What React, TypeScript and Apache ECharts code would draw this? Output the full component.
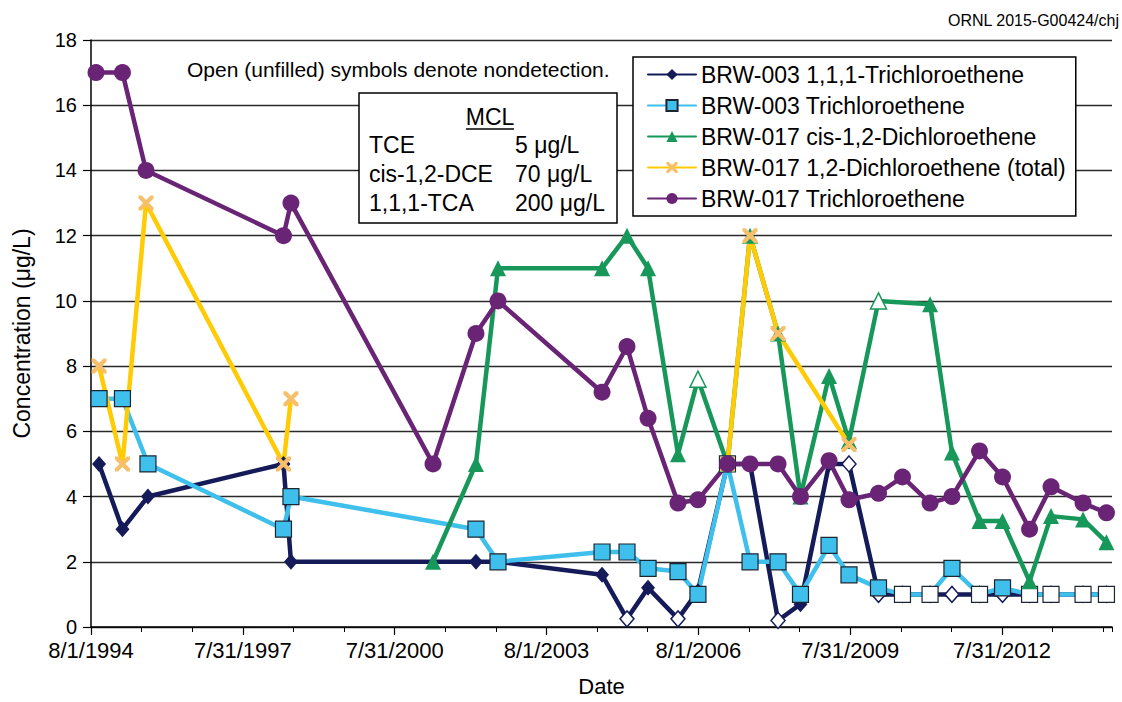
import React, { useEffect, useRef } from "react";
import * as echarts from "echarts";

// ---------- data ----------
const dates003 = ["1994-09-28","1995-03-16","1995-09-16","1998-05-21","1998-07-14","2002-03-10","2002-08-16","2004-09-05","2005-03-04","2005-08-03","2006-03-07","2006-07-29","2007-02-27","2007-08-09","2008-02-27","2008-08-07","2009-03-01","2009-07-23","2010-02-21","2010-08-13","2011-02-28","2011-08-05","2012-02-20","2012-08-04","2013-02-15","2013-07-20","2014-03-08","2014-08-24"];
const tca003 = [5,3,4,5,2,2,2,1.6,0.25,1.2,0.25,1.1,5,5,0.2,0.7,5,5,1,1,1,1,1,1,1,1,1,1];
const tca003ND = [8,10,14,17,18,19,20,21,22,23,24,25,26,27];
const tce003 = [7,7,5,3,4,3,2,2.3,2.3,1.8,1.7,1.0,5,2,2,1.0,2.5,1.6,1.2,1,1,1.8,1,1.2,1,1,1,1];
const tce003ND = [19,20,22,24,25,26,27];

const datesCis017 = ["2001-05-04","2002-03-10","2002-08-16","2004-09-05","2005-03-04","2005-08-03","2006-03-07","2006-07-29","2007-02-27","2007-08-09","2008-02-27","2008-08-07","2009-03-01","2009-07-23","2010-02-21","2011-02-28","2011-08-05","2012-02-20","2012-08-04","2013-02-15","2013-07-20","2014-03-08","2014-08-24"];
const cis017 = [2,5,11,11,12,11,5.3,7.6,5,12,9,4,7.7,5.7,10,9.9,5.35,3.25,3.25,1.4,3.4,3.3,2.6];
const cis017ND = [7,14];

const datesDce017: (string | null)[] = ["1994-09-28","1995-03-16","1995-09-02","1998-05-21","1998-07-14",null,"2007-02-27","2007-08-09","2008-02-27","2009-07-23"];
const dce017: (number | null)[] = [8,5,13,5,7,null,5,12,9,5.6];

const dates017 = ["1994-09-06","1995-03-16","1995-09-02","1998-05-21","1998-07-14","2001-05-04","2002-03-10","2002-08-16","2004-09-05","2005-03-04","2005-08-03","2006-03-07","2006-07-29","2007-02-27","2007-08-09","2008-02-27","2008-08-07","2009-03-01","2009-07-23","2010-02-21","2010-08-13","2011-02-28","2011-08-05","2012-02-20","2012-08-04","2013-02-15","2013-07-20","2014-03-08","2014-08-24"];
const tce017 = [17,17,14,12,13,5,9,10,7.2,8.6,6.4,3.8,3.9,5,5,5,4,5.1,3.9,4.1,4.6,3.8,4.0,5.4,4.6,3.0,4.3,3.8,3.5];

const seriesNames = [
  "BRW-003 1,1,1-Trichloroethene",
  "BRW-003 Trichloroethene",
  "BRW-017 cis-1,2-Dichloroethene",
  "BRW-017 1,2-Dichloroethene (total)",
  "BRW-017 Trichloroethene",
];
const mclRows = [
  ["TCE", "5 μg/L"],
  ["cis-1,2-DCE", "70 μg/L"],
  ["1,1,1-TCA", "200 μg/L"],
];
const yTicks = { min: 0, max: 18, interval: 2 };

// ---------- helpers ----------
const BASE = Date.UTC(1994, 7, 1);
const DAY = 86400000;
const toDay = (s: string) => (Date.parse(s + "T00:00:00Z") - BASE) / DAY;
const fmtDay = (v: number) => {
  const d = new Date(BASE + Math.floor(v + 1e-6) * DAY);
  return `${d.getUTCMonth() + 1}/${d.getUTCDate()}/${d.getUTCFullYear()}`;
};

const NAVY = "#151a58";
const CYAN = "#3ebfec";
const GREEN = "#17985a";
const GOLD = "#ffcb05";
const XFILL = "#f7bf6a";
const PURPLE = "#6a2476";
const FONT = '"Liberation Sans", Arial, sans-serif';

const X_PATH =
  "path://M0,0 L4,0 L10,6 L16,0 L20,0 L20,4 L14,10 L20,16 L20,20 L16,20 L10,14 L4,20 L0,20 L0,16 L6,10 L0,4 Z";

function build(dates: (string | null)[], vals: (number | null)[], nd: number[], ndStyle: any) {
  return dates.map((d, i) => {
    if (d === null || vals[i] === null) return { value: [null, "-"] as any };
    const item: any = { value: [toDay(d), vals[i]] };
    if (nd.includes(i)) item.itemStyle = ndStyle;
    return item;
  });
}

export default function App() {
  const ref = useRef<HTMLDivElement>(null);
  useEffect(() => {
    if (!ref.current) return;
    const chart = echarts.init(ref.current, undefined, { renderer: "svg" });
    const lineBase = { width: 4.5, join: "round" as const, cap: "round" as const };
    const xMax = 7368;
    const textStyle = (t: string, x: number, y: number, size: number, align = "left") => ({
      type: "text",
      x,
      y,
      z: 100,
      style: { text: t, fontSize: size, fontFamily: FONT, fill: "#000", align, verticalAlign: "middle" },
    });
    chart.setOption({
      animation: false,
      backgroundColor: "#fff",
      textStyle: { fontFamily: FONT, color: "#000" },
      grid: { left: 91, right: 10, top: 40, bottom: 74, containLabel: false },
      xAxis: [
        {
          type: "value",
          min: 0,
          max: xMax,
          interval: 1095.75,
          axisLine: { show: true, lineStyle: { color: "#000", width: 1.5 } },
          axisTick: { show: true, length: 8, lineStyle: { color: "#000", width: 1.2 } },
          axisLabel: { formatter: fmtDay, fontSize: 22, color: "#000", margin: 12, showMaxLabel: false },
          splitLine: { show: false },
          name: "Date",
          nameLocation: "middle",
          nameGap: 48,
          nameTextStyle: { fontSize: 22, color: "#000" },
        },
        {
          type: "value",
          min: 0,
          max: xMax,
          interval: 365.25,
          position: "bottom",
          axisLine: { show: false },
          axisTick: { show: true, length: 5, lineStyle: { color: "#000", width: 1 } },
          axisLabel: { show: false },
          splitLine: { show: false },
        },
      ],
      yAxis: {
        type: "value",
        min: yTicks.min,
        max: yTicks.max,
        interval: yTicks.interval,
        axisLine: { show: true, lineStyle: { color: "#000", width: 1.5 } },
        axisTick: { show: true, length: 8, lineStyle: { color: "#000", width: 1.2 } },
        axisLabel: { fontSize: 20, color: "#000", margin: 14 },
        splitLine: { show: true, lineStyle: { color: "#2a2a2a", width: 1.3 } },
        name: "Concentration (μg/L)",
        nameLocation: "middle",
        nameGap: 58,
        nameTextStyle: { fontSize: 23, color: "#000" },
      },
      legend: {
        orient: "vertical",
        left: 633,
        top: 57,
        padding: [6, 10, 6, 14],
        itemGap: 8,
        itemWidth: 48,
        itemHeight: 14,
        backgroundColor: "#fff",
        borderColor: "#000",
        borderWidth: 1.5,
        borderRadius: 0,
        textStyle: { fontSize: 23, color: "#000", fontFamily: FONT },
        data: seriesNames,
        z: 50,
      },
      graphic: [
        textStyle("ORNL 2015-G00424/chj", 1119, 20, 16, "right"),
        textStyle("Open (unfilled) symbols denote nondetection.", 187, 69, 21),
        {
          type: "rect",
          z: 99,
          shape: { x: 359, y: 93, width: 258, height: 130 },
          style: { fill: "#fff", stroke: "#000", lineWidth: 1.5 },
        },
        textStyle("MCL", 490, 117, 23, "center"),
        {
          type: "line",
          z: 100,
          shape: { x1: 466, y1: 129, x2: 514, y2: 129 },
          style: { stroke: "#000", lineWidth: 1.5 },
        },
        ...mclRows.flatMap((r, i) => [
          textStyle(r[0], 369, 145 + i * 29, 23),
          textStyle(r[1], 515, 145 + i * 29, 23),
        ]),
      ],
      series: [
        {
          name: seriesNames[0],
          type: "line",
          xAxisIndex: 0,
          symbol: "diamond",
          symbolSize: [14, 16],
          lineStyle: { ...lineBase, color: NAVY },
          itemStyle: { color: NAVY },
          data: build(dates003, tca003, tca003ND, { color: "#fff", borderColor: NAVY, borderWidth: 1.5 }),
        },
        {
          name: seriesNames[1],
          type: "line",
          xAxisIndex: 0,
          symbol: "rect",
          symbolSize: 16,
          lineStyle: { ...lineBase, color: CYAN },
          itemStyle: { color: CYAN, borderColor: "#1c2633", borderWidth: 1.2 },
          data: build(dates003, tce003, tce003ND, { color: "#fff", borderColor: "#1c2633", borderWidth: 1.2 }),
        },
        {
          name: seriesNames[2],
          type: "line",
          xAxisIndex: 0,
          symbol: "triangle",
          symbolSize: 16,
          lineStyle: { ...lineBase, color: GREEN },
          itemStyle: { color: GREEN },
          data: build(datesCis017, cis017, cis017ND, { color: "#fff", borderColor: GREEN, borderWidth: 1.5 }),
        },
        {
          name: seriesNames[3],
          type: "line",
          xAxisIndex: 0,
          symbol: X_PATH,
          symbolSize: 15,
          connectNulls: false,
          lineStyle: { ...lineBase, color: GOLD },
          itemStyle: { color: XFILL },
          data: build(datesDce017, dce017, [], null),
        },
        {
          name: seriesNames[4],
          type: "line",
          xAxisIndex: 0,
          symbol: "circle",
          symbolSize: 17,
          lineStyle: { ...lineBase, color: PURPLE },
          itemStyle: { color: PURPLE },
          data: build(dates017, tce017, [], null),
        },
      ],
    });
    return () => chart.dispose();
  }, []);
  return (
    <div
      ref={ref}
      style={{ position: "absolute", left: 0, top: 0, width: 1122, height: 702, background: "#fff" }}
    />
  );
}
